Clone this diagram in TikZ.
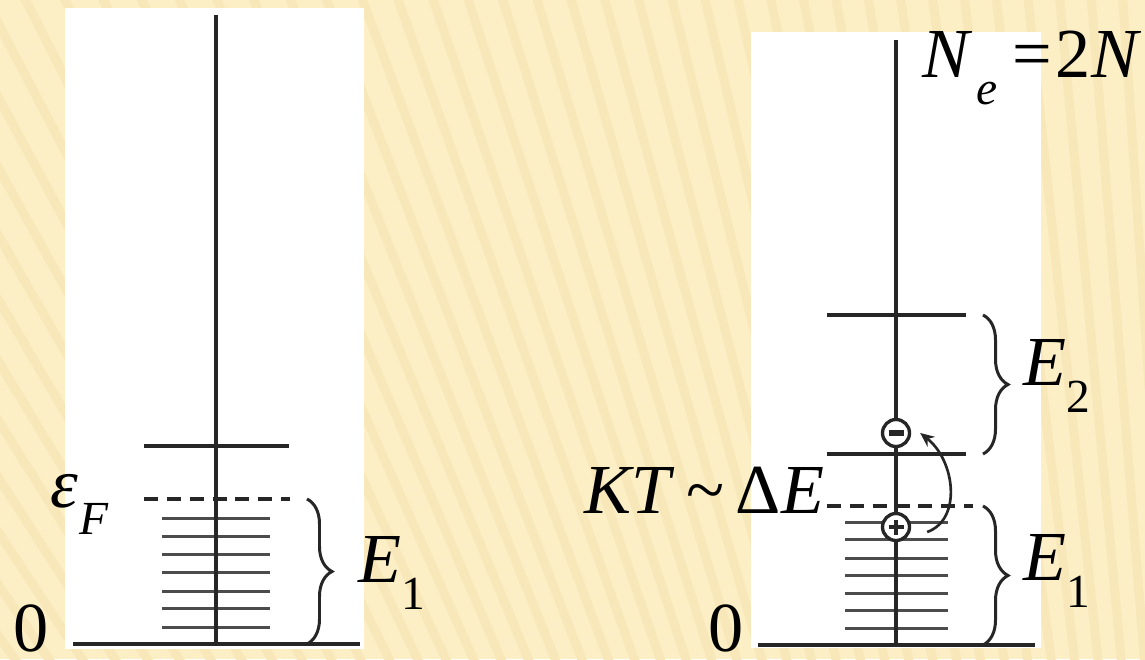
\documentclass[tikz,border=0pt]{standalone}
\usepackage{fontspec}
\setmainfont{Liberation Serif}
\usetikzlibrary{arrows.meta,calc,decorations.pathreplacing}
\definecolor{bgyellow}{HTML}{FCEFC6}
\definecolor{bgstripe}{HTML}{F8E7B8}
\definecolor{inkgray}{HTML}{262626}
\newcommand{\lsub}[1]{\raisebox{-0.54cm}{\fontsize{27}{30}\selectfont #1}}

\begin{document}
\begin{tikzpicture}[
  level/.style={line width=2.1pt,draw=inkgray},
  sublevel/.style={line width=1.7pt,draw=black!70},
  fermi/.style={line width=2.1pt,draw=inkgray,dash pattern=on 8pt off 5pt},
  br/.style={line width=1.7pt,draw=inkgray,decorate,decoration={brace,amplitude=0.5cm}},
  lab/.style={anchor=base west,inner sep=0pt,font=\fontsize{40}{44}\selectfont},
  carrier/.style={circle,draw=inkgray,line width=1.9pt,fill=white,minimum size=0.54cm,inner sep=0pt},
  arr/.style={line width=1.5pt,draw=inkgray,-{Stealth[length=8pt,width=7pt]}}]
  \useasboundingbox (0,0) rectangle (22.9,13.18);
  \fill[bgyellow] (0,0) rectangle (22.9,13.18);
  \begin{scope}
    \clip (0,0) rectangle (22.9,13.18);
    \foreach \a in {91,91.72,...,134}
      \draw[bgstripe,line width=0.18cm] (25.84,-36.7) ++(\a:30) -- ++(\a:26);
  \end{scope}
  \fill[white] (1.30,0.20) rectangle (7.28,13.02);
  \fill[white] (15.02,0.22) rectangle (20.82,12.54);

  % one band
  \draw[level] (1.46,0.30) -- (7.20,0.30);
  \draw[level] (2.88,4.26) -- (5.78,4.26);
  \draw[fermi] (2.88,3.20) -- (5.80,3.20);
  \foreach \y in {2.82,2.46,2.10,1.74,1.36,1.02,0.64}
    \draw[sublevel] (3.24,\y) -- (5.40,\y);
  \coordinate (Ltop) at (4.32,12.88);
  \coordinate (Lbot) at (4.32,0.30);
  \draw[level] (Ltop) -- (Lbot);
  \draw[br] (6.14,3.20) -- (6.14,0.30);
  \node[lab] (epsF) at (1.00,3.04) {\textit{ε}\kern1pt\lsub{\textit{F}}};
  \node[lab] (Eone) at (7.16,1.54) {\textit{E}\lsub{1}};
  \node[lab] (zeroL) at (0.27,0.16) {0};

  % two bands
  \draw[level] (15.16,0.28) -- (20.70,0.28);
  \draw[level] (16.54,6.88) -- (19.32,6.88);
  \draw[level] (16.54,4.10) -- (19.32,4.10);
  \draw[fermi] (16.54,3.06) -- (19.46,3.06);
  \foreach \y in {2.74,2.40,2.02,1.68,1.32,0.98,0.62}
    \draw[sublevel] (16.90,\y) -- (18.96,\y);
  \coordinate (Rtop) at (17.92,12.38);
  \coordinate (Rbot) at (17.92,0.28);
  \draw[level] (Rtop) -- (Rbot);
  \node[carrier] (elec) at (17.92,4.52) {};
  \draw[line width=3pt,inkgray] ($(elec)-(0.15,0)$) -- ($(elec)+(0.15,0)$);
  \node[carrier] (hole) at (17.92,2.64) {};
  \draw[line width=2.4pt,inkgray] ($(hole)-(0.15,0)$) -- ($(hole)+(0.15,0)$)
    ($(hole)-(0,0.15)$) -- ($(hole)+(0,0.15)$);
  \draw[arr] ([shift={(0.32,-0.10)}]hole.east) .. controls +(0.7,0.25) and +(0.7,-0.55) .. ([xshift=0.18cm]elec.east);
  \draw[br] (19.66,6.88) -- (19.66,4.10);
  \draw[br] (19.66,3.06) -- (19.66,0.28);
  \node[lab] (Etwo) at (20.46,5.48) {\textit{E}\lsub{2}};
  \node[lab] (EoneR) at (20.46,1.58) {\textit{E}\lsub{1}};
  \node[lab] (zeroR) at (14.16,0.16) {0};
  \node[lab] (kT) at (11.68,2.92) {\textit{KT}\,\textasciitilde\,Δ\textit{E}};
  \node[lab] (Ne) at (18.44,11.62) {\textit{N}\kern2pt\lsub{\textit{e}}\kern9pt=\kern2pt2\textit{N}};
\end{tikzpicture}
\end{document}
